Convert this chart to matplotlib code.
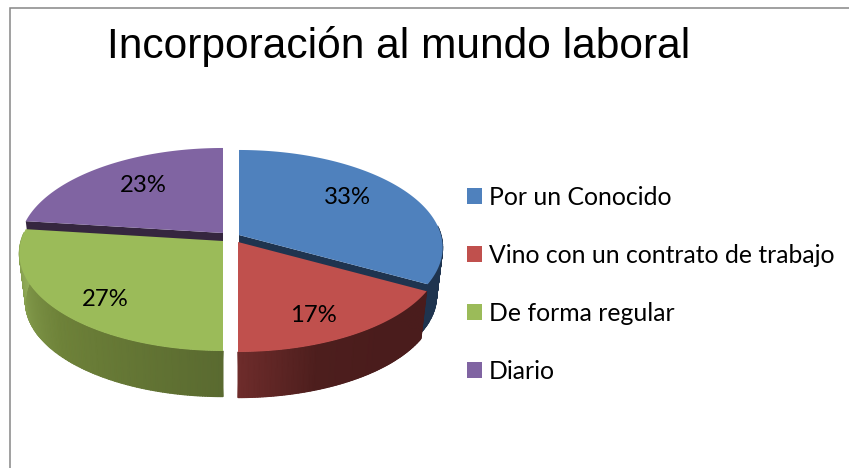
import numpy as np
import matplotlib
matplotlib.use("Agg")
import matplotlib.pyplot as plt
from matplotlib.colors import LinearSegmentedColormap
from matplotlib.patches import Polygon, Patch

# Data
categories = ["Por un Conocido", "Vino con un contrato de trabajo", "De forma regular", "Diario"]
values = [33, 17, 27, 23]

# Colours: top face, then rim gradient stops (clockwise along the slice)
top_colors = ["#4F81BD", "#C0504D", "#9BBB59", "#8064A2"]
rim_stops = [
    ["#1F344F", "#1F344F"],
    ["#4A1C1C", "#4A1C1C", "#4D1E1D", "#6E2C2B"],
    ["#5A6A30", "#6E8239", "#93AE5A"],
    ["#35263F", "#35263F"],
]
cut_colors = ["#1F344F", "#4A1C1C", "#5A6A30", "#35263F"]

# Pie projection (pixels)
apex = [(239, 235), (238, 242), (223, 241), (223, 233)]
a = 202
b = 95.9
k = 0.128
depth = 49
shrink = 0.97
label_pos = [(347, 197), (313, 315), (105, 299), (143, 186)]


def project(theta):
    # theta is clockwise from 12 o'clock
    u = np.sin(theta)
    v = -np.cos(theta)
    s = 1 / (1 - k * v)
    return a * u * s, b * v * s


fig = plt.figure(figsize=(8.49, 4.68), dpi=100)
ax = fig.add_axes([0, 0, 1, 1])
ax.set_xlim(0, 849)
ax.set_ylim(468, 0)
ax.axis("off")

# Chart frame
ax.plot([10, 10, 849], [468, 8, 8], color="#868686", lw=1.1, solid_joinstyle="miter")

edges = np.radians(np.cumsum([0] + values) * 3.6)
cut_edge = {0: edges[1], 3: edges[3]}  # only these straight edges show a cut face

# Back slices first so the front ones cover them
for i in [0, 3, 1, 2]:
    x0, y0 = apex[i]
    th = np.linspace(edges[i], edges[i + 1], 150)
    px, py = project(th)

    if i in cut_edge:
        ex, ey = project(cut_edge[i])
        ax.add_patch(Polygon(
            [(x0, y0), (x0 + ex, y0 + ey), (x0 + ex * shrink, y0 + ey * shrink + depth),
             (x0, y0 + depth)],
            closed=True, fc=cut_colors[i], ec="none", zorder=i + 1))

    # rim, only the part that faces the viewer
    front = -np.cos(th) > -0.1
    if front.sum() > 1:
        rx = x0 + px[front]
        ry = y0 + py[front]
        bx = x0 + px[front] * shrink
        by = y0 + py[front] * shrink + depth
        f = np.linspace(0, 1, front.sum())
        cmap = LinearSegmentedColormap.from_list("rim", rim_stops[i])
        ax.pcolormesh(np.array([rx, bx]), np.array([ry, by]), np.array([f, f]),
                      shading="gouraud", cmap=cmap, vmin=0, vmax=1, zorder=i + 1)

    # top face
    pts = [(x0, y0)] + list(zip(x0 + px, y0 + py))
    ax.add_patch(Polygon(pts, closed=True, fc=top_colors[i], ec="none", zorder=6))

for i, (lx, ly) in enumerate(label_pos):
    ax.text(lx, ly, f"{values[i]}%", ha="center", va="center", family="Lato",
            fontsize=17.2, color="black", zorder=7)

ax.text(107, 58, "Incorporación al mundo laboral", family="Liberation Sans",
        fontsize=30.6, color="black", ha="left", va="baseline")

handles = [Patch(fc=c, ec=c, lw=0) for c in top_colors]
ax.legend(handles, categories, loc="upper left", bbox_to_anchor=(467, 186),
          bbox_transform=ax.transData, frameon=False,
          prop={"family": "Lato", "size": 17.8},
          handlelength=0.6, handleheight=0.6, handletextpad=0.28,
          labelspacing=1.41, borderpad=0, borderaxespad=0)

fig.savefig("out.png", dpi=100)
